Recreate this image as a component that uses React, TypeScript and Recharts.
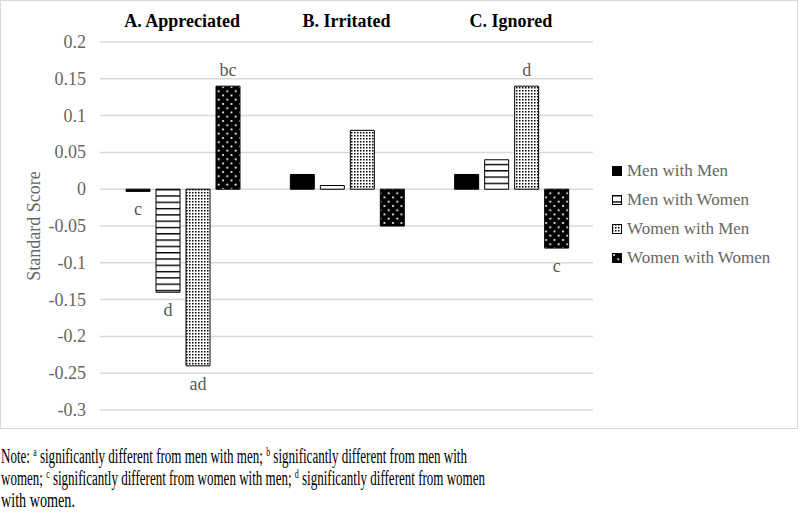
import React, { useLayoutEffect, useRef } from 'react';
import { BarChart, Bar, XAxis, YAxis, CartesianGrid, Legend, LabelList } from 'recharts';

const categories = ['A. Appreciated', 'B. Irritated', 'C. Ignored'];
const menWithMen = [-0.003, 0.02, 0.02];
const menWithWomen = [-0.14, 0.005, 0.04];
const womenWithMen = [-0.24, 0.08, 0.14];
const womenWithWomen = [0.14, -0.05, -0.08];
const labelsMM = ['c', '', ''];
const labelsMW = ['d', '', ''];
const labelsWM = ['ad', '', 'd'];
const labelsWW = ['bc', '', 'c'];
const yTicks = [0.2, 0.15, 0.1, 0.05, 0, -0.05, -0.1, -0.15, -0.2, -0.25, -0.3];
const seriesNames = ['Men with Men', 'Men with Women', 'Women with Men', 'Women with Women'];

const data = categories.map((c, i) => ({
  name: c,
  mm: menWithMen[i],
  mw: menWithWomen[i],
  wm: womenWithMen[i],
  ww: womenWithWomen[i],
}));

const FONT = '"Liberation Serif", "Times New Roman", serif';
const GRAY = '#666666';
const fills = ['#000000', 'url(#pMW)', 'url(#pWM)', 'url(#pWW)'];

const makeLabel = (values: number[], labels: string[]) => (props: any) => {
  const { x, y, width, height, index } = props;
  const txt = labels[index];
  if (!txt) return null;
  const v = values[index];
  const top = Math.min(y, y + height);
  const bottom = Math.max(y, y + height);
  const ty = v >= 0 ? top - 10 : bottom + 24;
  return (
    <text x={x + width / 2} y={ty} textAnchor="middle" fontFamily={FONT} fontSize={18} fill="#595959">
      {txt}
    </text>
  );
};

const TopTick = (props: any) => {
  const { x, payload } = props;
  return (
    <text x={x} y={27} textAnchor="middle" fontFamily={FONT} fontSize={18} fontWeight="bold" fill="#000">
      {payload.value}
    </text>
  );
};

const LeftTick = (props: any) => {
  const { y, payload } = props;
  const v = Number(Number(payload.value).toFixed(2)).toString();
  return (
    <text x={86} y={y} dy={6} textAnchor="end" fontFamily={FONT} fontSize={18} fill={GRAY}>
      {v}
    </text>
  );
};

const LegendContent = () => (
  <div style={{ fontFamily: FONT, fontSize: 17, color: GRAY }}>
    {seriesNames.map((n, i) => (
      <div key={n} style={{ display: 'flex', alignItems: 'center', height: 29, whiteSpace: 'nowrap' }}>
        <svg width={10} height={10} style={{ marginRight: 5 }}>
          <rect x={0.5} y={0.5} width={9} height={9} fill={fills[i]} stroke="#000" strokeWidth={1} />
        </svg>
        <span>{n}</span>
      </div>
    ))}
  </div>
);

const YLabel = (props: any) => {
  const vb = props.viewBox || {};
  const cy = (vb.y || 0) + (vb.height || 0) / 2;
  return (
    <text x={34} y={cy} transform={`rotate(-90, 34, ${cy})`} textAnchor="middle" dominantBaseline="central"
      fontFamily={FONT} fontSize={18} fill={GRAY}>
      Standard Score
    </text>
  );
};

const Sup = ({ c }: { c: string }) => (
  <span style={{ fontSize: 12, position: 'relative', top: -7 }}>{c}</span>
);

const noteLines: { content: React.ReactNode; width: number; top: number }[] = [
  {
    content: (<>Note: <Sup c="a" /> significantly different from men with men; <Sup c="b" /> significantly different from men with</>),
    width: 466, top: 445,
  },
  {
    content: (<>women; <Sup c="c" /> significantly different from women with men; <Sup c="d" /> significantly different from women</>),
    width: 484, top: 467,
  },
  { content: <>with women.</>, width: 74, top: 489 },
];

const NoteLine = ({ content, width, top }: { content: React.ReactNode; width: number; top: number }) => {
  const ref = useRef<HTMLSpanElement>(null);
  useLayoutEffect(() => {
    const el = ref.current;
    if (!el) return;
    el.style.transform = 'none';
    const w = el.getBoundingClientRect().width;
    if (w > 0) el.style.transform = `scaleX(${width / w})`;
  }, [width]);
  return (
    <div style={{ position: 'absolute', left: 1, top, height: 22, whiteSpace: 'nowrap' }}>
      <span ref={ref} style={{ display: 'inline-block', transformOrigin: '0 0', fontFamily: FONT, fontSize: 20, lineHeight: '22px', color: '#000' }}>
        {content}
      </span>
    </div>
  );
};

export default function App() {
  return (
    <div style={{ position: 'absolute', left: 0, top: 0, width: 800, height: 513, background: '#fff', overflow: 'hidden' }}>
      <svg width={0} height={0} style={{ position: 'absolute' }}>
        <defs>
          <pattern id="pMW" width={6} height={6.3} patternUnits="userSpaceOnUse">
            <rect width={6} height={6.3} fill="#fff" />
            <rect y={0} width={6} height={1.4} fill="#000" />
          </pattern>
          <pattern id="pWM" width={3} height={3} patternUnits="userSpaceOnUse">
            <rect width={3} height={3} fill="#fff" />
            <rect x={0} y={0} width={1.5} height={1.5} fill="#000" />
          </pattern>
          <pattern id="pWW" width={8.5} height={8.5} patternUnits="userSpaceOnUse">
            <rect width={8.5} height={8.5} fill="#000" />
            <circle cx={2} cy={2} r={1.1} fill="#fff" />
            <circle cx={6.25} cy={6.25} r={1.1} fill="#fff" />
          </pattern>
        </defs>
      </svg>
      <div style={{ position: 'absolute', left: 0, top: 0, width: 796, height: 427, border: '1px solid #d9d9d9' }} />
      <div style={{ position: 'absolute', left: 0, top: 0 }}>
        <BarChart width={800} height={430} data={data} margin={{ top: 12, right: 207, bottom: 20, left: 0 }}
          barCategoryGap={26} barGap={6}>
          <CartesianGrid vertical={false} stroke="#d9d9d9" strokeWidth={1.5} />
          <XAxis dataKey="name" orientation="top" axisLine={false} tickLine={false} tick={<TopTick />} height={30} />
          <YAxis domain={[-0.3, 0.2]} ticks={yTicks} axisLine={false} tickLine={false} width={100}
            tick={<LeftTick />} interval={0} label={<YLabel />} />
          <Legend layout="vertical" align="center" verticalAlign="middle" content={<LegendContent />}
            wrapperStyle={{ left: 612, top: 156, width: 185, bottom: 'auto', right: 'auto' }} />
          <Bar dataKey="mm" name={seriesNames[0]} fill={fills[0]} stroke="#000" isAnimationActive={false}>
            <LabelList dataKey="mm" content={makeLabel(menWithMen, labelsMM)} />
          </Bar>
          <Bar dataKey="mw" name={seriesNames[1]} fill={fills[1]} stroke="#000" isAnimationActive={false}>
            <LabelList dataKey="mw" content={makeLabel(menWithWomen, labelsMW)} />
          </Bar>
          <Bar dataKey="wm" name={seriesNames[2]} fill={fills[2]} stroke="#000" isAnimationActive={false}>
            <LabelList dataKey="wm" content={makeLabel(womenWithMen, labelsWM)} />
          </Bar>
          <Bar dataKey="ww" name={seriesNames[3]} fill={fills[3]} stroke="#000" isAnimationActive={false}>
            <LabelList dataKey="ww" content={makeLabel(womenWithWomen, labelsWW)} />
          </Bar>
        </BarChart>
      </div>
      {noteLines.map((l, i) => (
        <NoteLine key={i} content={l.content} width={l.width} top={l.top} />
      ))}
    </div>
  );
}
